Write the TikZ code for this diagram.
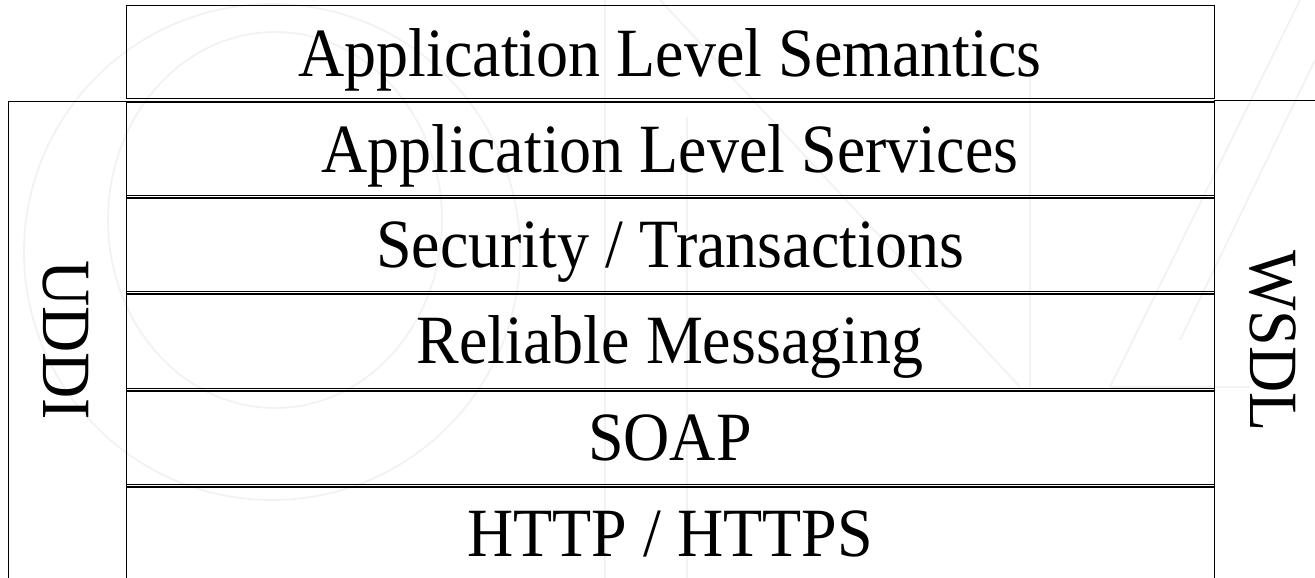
\documentclass[tikz,border=0pt]{standalone}
\usepackage{fontspec}
\setmainfont{Liberation Serif}
\newcommand{\tallt}[1]{\scalebox{1}[1.08]{#1}}
\begin{document}
\begin{tikzpicture}[x=1pt,y=-1pt,
  layerbox/.style={draw=black, line width=1.4pt, minimum width=1088pt, inner sep=0pt},
  sidebox/.style={draw=black, line width=1.4pt, inner sep=0pt},
  lbl/.style={inner sep=0pt, anchor=base, font=\fontsize{64}{70}\selectfont},
  vlbl/.style={inner sep=0pt, rotate=-90, text height=46pt, text depth=0pt, font=\fontsize{64}{70}\selectfont},
  wm/.style={draw=black!5, line width=1.8pt}
]
\useasboundingbox (0,0) rectangle (1315,578);
\clip (0,0) rectangle (1315,578);
% faint watermark
\draw[wm] (275,220) ellipse [x radius=167, y radius=188];
\draw[wm] (272,252) circle [radius=248];
\draw[wm] (605,0) -- (605,578);
\draw[wm] (687,117) -- (687,578);
\draw[wm] (660,0) -- (1020,387);
\draw[wm] (1030,40) -- (1030,387);
\draw[wm] (1110,387) -- (1300,0);
\draw[wm] (1110,387) -- (1250,387);
\draw[wm] (1180,340) -- (1315,60);
% side boxes
\node[sidebox, minimum width=118pt, minimum height=520pt, anchor=north west] (uddibox) at (8,101) {};
\node[sidebox, minimum width=140pt, minimum height=520pt, anchor=north west] (wsdlbox) at (1214,100) {};
\node[vlbl] (uddi) at (66,340) {\tallt{UDDI}};
\node[vlbl] (wsdl) at (1273,341) {\tallt{WSDL}};
% layers
\node[layerbox, minimum height=93pt, anchor=north west] (sem) at (126,5) {};
\node[layerbox, minimum height=93.6pt, anchor=north west] (svc) at (126,101.2) {};
\node[layerbox, minimum height=93.6pt, anchor=north west] (sec) at (126,197.2) {};
\node[layerbox, minimum height=94.6pt, anchor=north west] (rel) at (126,293.2) {};
\node[layerbox, minimum height=93.6pt, anchor=north west] (soap) at (126,390.2) {};
\node[layerbox, minimum height=140pt, anchor=north west] (http) at (126,486.2) {};
\node[lbl] (semt) at (670,77) {\tallt{Application Level Semantics}};
\node[lbl] (svct) at (670,172) {\tallt{Application Level Services}};
\node[lbl] (sect) at (670,267) {\tallt{Security / Transactions}};
\node[lbl] (relt) at (670,363) {\tallt{Reliable Messaging}};
\node[lbl] (soapt) at (670,460) {\tallt{SOAP}};
\node[lbl] (httpt) at (670,556) {\tallt{HTTP / HTTPS}};
\end{tikzpicture}
\end{document}
